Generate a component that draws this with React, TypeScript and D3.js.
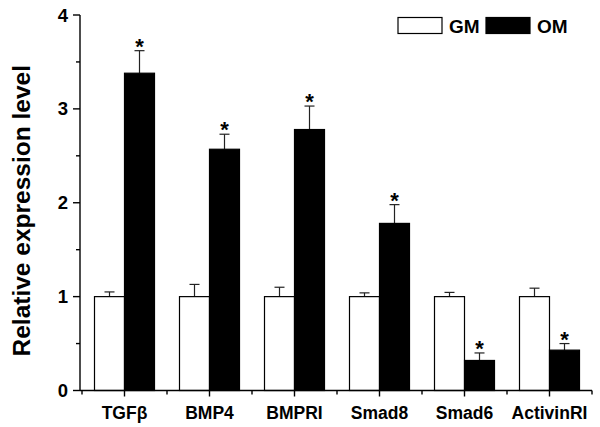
import React, { useEffect, useRef } from 'react';
import * as d3 from 'd3';

// data
const categories = ['TGFβ', 'BMP4', 'BMPRI', 'Smad8', 'Smad6', 'ActivinRI'];
const groups = ['GM', 'OM'];
const gmValues = [1.0, 1.0, 1.0, 1.0, 1.0, 1.0];
const gmErrors = [0.05, 0.13, 0.1, 0.04, 0.045, 0.09];
const omValues = [3.38, 2.57, 2.78, 1.78, 0.32, 0.43];
const omErrors = [0.24, 0.16, 0.25, 0.2, 0.08, 0.07];
const significant = [true, true, true, true, true, true];
const yTicks = [0, 1, 2, 3, 4];
const yMinorTicks = [0.5, 1.5, 2.5, 3.5];

const FONT = '"Liberation Sans", Arial, sans-serif';

const App: React.FC = () => {
  const svgRef = useRef<SVGSVGElement | null>(null);

  useEffect(() => {
    if (!svgRef.current) return;
    const width = 600;
    const height = 427;
    const svg = d3.select(svgRef.current);
    svg.selectAll('*').remove();

    const left = 80;
    const right = 592;
    const bottom = 390.5;
    const top = 15;

    const x = d3.scaleBand<string>().domain(categories).range([82, right]).padding(0);
    const xSub = d3
      .scaleBand<string>()
      .domain(groups)
      .range([0, x.bandwidth()])
      .paddingInner(0)
      .paddingOuter(12.5 / 30);
    const y = d3.scaleLinear().domain([0, 4]).range([bottom, top]);

    svg.append('rect').attr('width', width).attr('height', height).attr('fill', '#fff');

    const rows = categories.map((c, i) => ({
      cat: c,
      gm: gmValues[i],
      gmErr: gmErrors[i],
      om: omValues[i],
      omErr: omErrors[i],
      sig: significant[i],
    }));

    // bars
    const g = svg.append('g');
    rows.forEach((r) => {
      const x0 = x(r.cat)!;
      const bars = [
        { key: 'GM', v: r.gm, e: r.gmErr, fill: '#fff' },
        { key: 'OM', v: r.om, e: r.omErr, fill: '#000' },
      ];
      bars.forEach((b) => {
        const bx = x0 + xSub(b.key)!;
        const bw = xSub.bandwidth();
        const cx = bx + bw / 2;
        // error bar (upper only)
        g.append('line')
          .attr('x1', cx).attr('x2', cx)
          .attr('y1', y(b.v)).attr('y2', y(b.v + b.e))
          .attr('stroke', '#222').attr('stroke-width', 1.2);
        g.append('line')
          .attr('x1', cx - 5).attr('x2', cx + 5)
          .attr('y1', y(b.v + b.e)).attr('y2', y(b.v + b.e))
          .attr('stroke', '#222').attr('stroke-width', 1.2);
        g.append('rect')
          .attr('x', bx)
          .attr('y', y(b.v))
          .attr('width', bw)
          .attr('height', bottom - y(b.v))
          .attr('fill', b.fill)
          .attr('stroke', '#000')
          .attr('stroke-width', 1.2);
      });
      if (r.sig) {
        const cx = x0 + xSub('OM')! + xSub.bandwidth() / 2;
        g.append('text')
          .attr('x', cx)
          .attr('y', y(r.om + r.omErr) + 3)
          .attr('text-anchor', 'middle')
          .attr('font-family', FONT)
          .attr('font-weight', 'bold')
          .attr('font-size', 22)
          .text('*');
      }
    });

    // y axis
    const ax = svg.append('g').attr('stroke', '#000').attr('stroke-width', 1.4);
    ax.append('line').attr('x1', left).attr('x2', left).attr('y1', top).attr('y2', bottom);
    yTicks.forEach((t) => {
      ax.append('line').attr('x1', left - 7).attr('x2', left).attr('y1', y(t)).attr('y2', y(t));
    });
    yMinorTicks.forEach((t) => {
      ax.append('line').attr('x1', left - 4).attr('x2', left).attr('y1', y(t)).attr('y2', y(t));
    });
    svg.append('g')
      .selectAll('text')
      .data(yTicks)
      .enter()
      .append('text')
      .attr('x', left - 12)
      .attr('y', (d) => y(d) + 6.5)
      .attr('text-anchor', 'end')
      .attr('font-family', FONT)
      .attr('font-weight', 'bold')
      .attr('font-size', 18.5)
      .text((d) => d);

    // x axis
    ax.append('line').attr('x1', left).attr('x2', right).attr('y1', bottom).attr('y2', bottom);
    categories.forEach((c) => {
      const cx = x(c)! + x.bandwidth() / 2;
      ax.append('line').attr('x1', cx).attr('x2', cx).attr('y1', bottom).attr('y2', bottom + 6);
    });
    const bounds = [x(categories[0])!, ...categories.map((c) => x(c)! + x.bandwidth())];
    bounds.forEach((bx) => {
      ax.append('line').attr('x1', bx).attr('x2', bx).attr('y1', bottom).attr('y2', bottom + 4);
    });
    svg.append('g')
      .selectAll('text')
      .data(categories)
      .enter()
      .append('text')
      .attr('x', (d) => x(d)! + x.bandwidth() / 2)
      .attr('y', 419)
      .attr('text-anchor', 'middle')
      .attr('font-family', FONT)
      .attr('font-weight', 'bold')
      .attr('font-size', 17.5)
      .text((d) => d);

    // y label
    svg.append('text')
      .attr('transform', `translate(30,${(top + bottom) / 2 + 8}) rotate(-90)`)
      .attr('text-anchor', 'middle')
      .attr('font-family', FONT)
      .attr('font-weight', 'bold')
      .attr('font-size', 24.5)
      .text('Relative expression level');

    // legend
    const legend = [
      { key: 'GM', fill: '#fff', x: 398 },
      { key: 'OM', fill: '#000', x: 486 },
    ];
    legend.forEach((l) => {
      svg.append('rect')
        .attr('x', l.x).attr('y', 17.5)
        .attr('width', 44).attr('height', 16)
        .attr('fill', l.fill).attr('stroke', '#000').attr('stroke-width', 1.2);
      svg.append('text')
        .attr('x', l.x + 51).attr('y', 32.5)
        .attr('font-family', FONT)
        .attr('font-weight', 'bold')
        .attr('font-size', 19)
        .text(l.key);
    });
  }, []);

  return (
    <svg
      ref={svgRef}
      width={600}
      height={427}
      style={{ position: 'absolute', left: 0, top: 0, display: 'block' }}
    />
  );
};

export default App;
